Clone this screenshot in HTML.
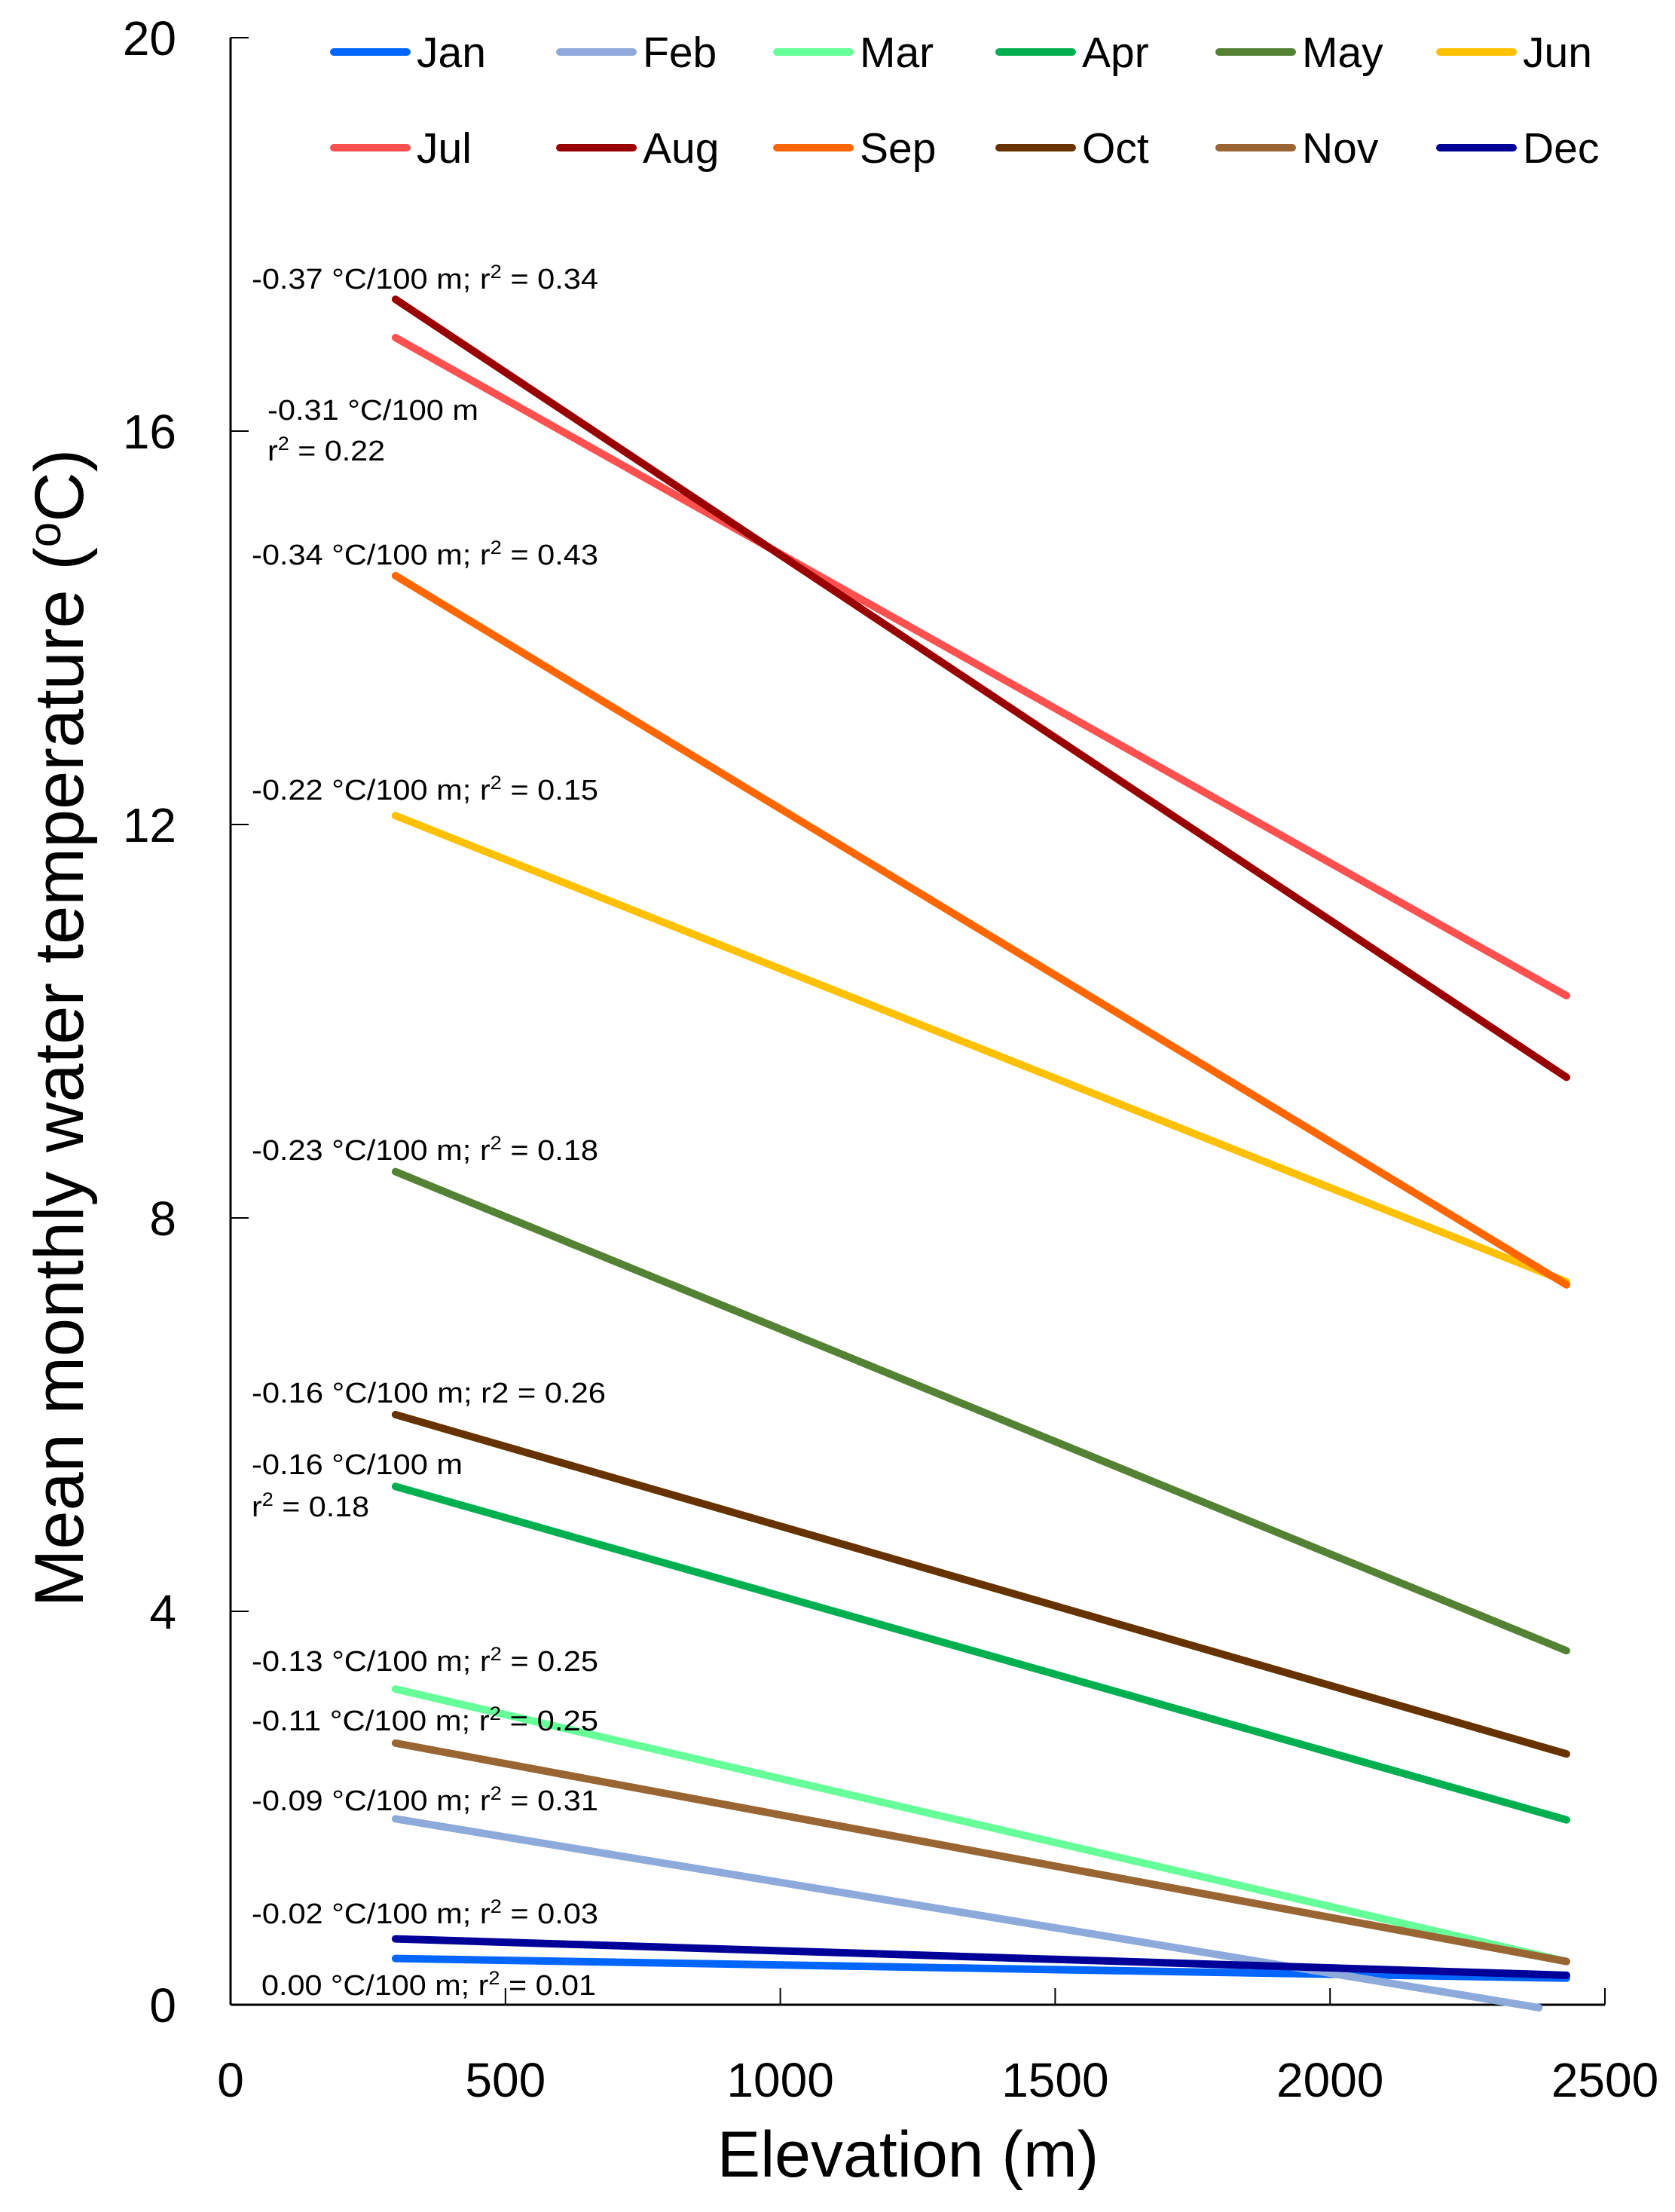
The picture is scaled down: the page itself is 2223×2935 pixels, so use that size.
<!DOCTYPE html>
<html><head><meta charset="utf-8"><style>
html,body{margin:0;padding:0;background:#fff}
svg{display:block;font-family:"Liberation Sans",sans-serif}
</style></head><body>
<svg id="chart" width="2223" height="2935" viewBox="0 0 2223 2935" xmlns="http://www.w3.org/2000/svg">
<g id="axes"></g>
<g id="series"></g>
<g id="annotations"></g>
<g id="legend"></g>
</svg>
<script>
const months = ["Jan","Feb","Mar","Apr","May","Jun","Jul","Aug","Sep","Oct","Nov","Dec"];
const colors = ["#0066ff","#8eaadb","#66ff99","#00b050","#548235","#ffc000","#ff5050","#990000","#ff6600","#663300","#996633","#000099"];
const startElev = [300,300,300,300,300,300,300,300,300,300,300,300];
const endElev = [2430,2380,2430,2430,2430,2430,2430,2430,2430,2430,2430,2430];
const startTemp = [0.47,1.89,3.21,5.27,8.47,12.09,16.95,17.34,14.53,6.0,2.66,0.67];
const endTemp = [0.27,-0.03,0.44,1.88,3.60,7.35,10.26,9.43,7.32,2.55,0.44,0.30];
const xTicks = [0,500,1000,1500,2000,2500];
const yTicks = [0,4,8,12,16,20];
const annTexts = [
 ["-0.37 °C/100 m; r","2"," = 0.34"],
 ["-0.31 °C/100 m"],
 ["r","2"," = 0.22"],
 ["-0.34 °C/100 m; r","2"," = 0.43"],
 ["-0.22 °C/100 m; r","2"," = 0.15"],
 ["-0.23 °C/100 m; r","2"," = 0.18"],
 ["-0.16 °C/100 m; r2 = 0.26"],
 ["-0.16 °C/100 m"],
 ["r","2"," = 0.18"],
 ["-0.13 °C/100 m; r","2"," = 0.25"],
 ["-0.11 °C/100 m; r","2"," = 0.25"],
 ["-0.09 °C/100 m; r","2"," = 0.31"],
 ["-0.02 °C/100 m; r","2"," = 0.03"],
 ["0.00 °C/100 m; r","2"," = 0.01"]
];
// annotation placement (pixels): left x, baseline y, text length
const annPos = [[334,383,460],[355,557,280],[355,611,156],[334,749,460],[334,1061,460],[334,1539,460],[334,1861,470],[334,1956,280],[334,2012,156],[334,2217,460],[334,2296,460],[334,2402,460],[334,2552,460],[347,2647,444]];

const NS="http://www.w3.org/2000/svg";
const X0=306, X1=2130, Y0=2660, Y1=50;
const xs=v=>X0+(v/2500)*(X1-X0);
const ys=v=>Y0-(v/20)*(Y0-Y1);
function mk(tag,attrs,parent){const e=document.createElementNS(NS,tag);for(const k in attrs)e.setAttribute(k,attrs[k]);parent.appendChild(e);return e;}

const axes=document.getElementById('axes');
let l=mk('line',{x1:X0,y1:Y0,x2:X1,y2:Y0,stroke:'#000','stroke-width':3},axes);


l=mk('line',{x1:X0,y1:Y0,x2:X0,y2:Y1,stroke:'#000','stroke-width':3},axes);


xTicks.forEach(t=>{
 const tk=mk('line',{x1:xs(t),y1:Y0,x2:xs(t),y2:Y0-22,stroke:'#000','stroke-width':2},axes);
 
 
 const tx=mk('text',{x:xs(t),y:2782,'font-size':64,'text-anchor':'middle',fill:'#000'},axes);
 tx.textContent=t;
 
 
});
yTicks.forEach(t=>{
 const tk=mk('line',{x1:X0,y1:ys(t),x2:X0+24,y2:ys(t),stroke:'#000','stroke-width':2},axes);
 
 
 const tx=mk('text',{x:234,y:ys(t)+23,'font-size':64,'text-anchor':'end',fill:'#000'},axes);
 tx.textContent=t;
 
 
});
let tt=mk('text',{x:1205,y:2888,'font-size':86,'text-anchor':'middle',fill:'#000'},axes);
tt.textContent='Elevation (m)';


tt=mk('text',{x:0,y:0,'font-size':92,'text-anchor':'middle',fill:'#000',transform:'translate(110,1364) rotate(-90)'},axes);
tt.innerHTML='Mean monthly water temperature (<tspan dy="-30" font-size="60">o</tspan><tspan dy="30">C)</tspan>';



const series=document.getElementById('series');
months.forEach((m,i)=>{
 const ln=mk('line',{x1:xs(startElev[i]),y1:ys(startTemp[i]),x2:xs(endElev[i]),y2:ys(endTemp[i]),stroke:colors[i],'stroke-width':10,'stroke-linecap':'round'},series);
 
 
});

const ann=document.getElementById('annotations');
annTexts.forEach((parts,i)=>{
 const p=annPos[i];
 const t=mk('text',{x:p[0],y:p[1],'font-size':38,fill:'#000',textLength:p[2],lengthAdjust:'spacingAndGlyphs'},ann);
 if(parts.length===1){t.textContent=parts[0];}
 else{t.innerHTML=parts[0]+'<tspan dy="-14" font-size="25">'+parts[1]+'</tspan><tspan dy="14">'+parts[2]+'</tspan>';}
 
 
});

const leg=document.getElementById('legend');
const colX=[443,743,1031,1326,1618,1911], rowY=[69,196];
months.forEach((m,i)=>{
 const cx=colX[i%6], cy=rowY[Math.floor(i/6)];
 const g=mk('g',{},leg);
 
 
 mk('line',{x1:cx,y1:cy,x2:cx+97,y2:cy,stroke:colors[i],'stroke-width':10,'stroke-linecap':'round'},g);
 const t=mk('text',{x:cx+110,y:cy+20,'font-size':57,fill:'#000'},g);
 t.textContent=m;
});
</script>
</body></html>
